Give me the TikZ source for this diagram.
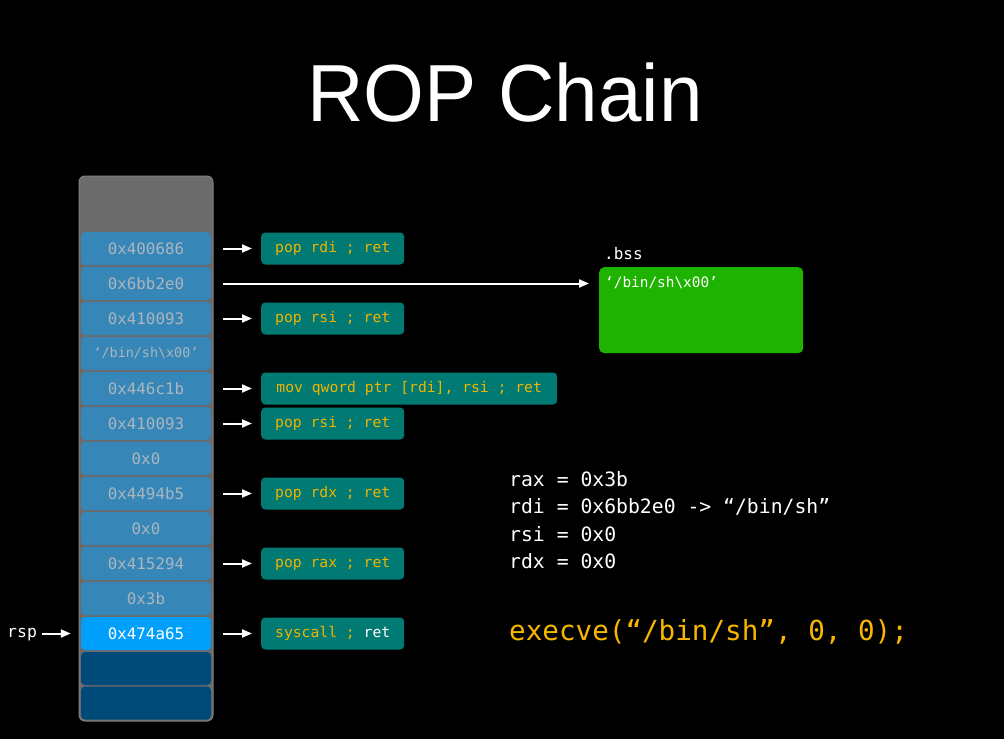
\documentclass[tikz,border=0pt]{standalone}
\usepackage{fontspec}
\setmainfont{Liberation Sans}
\setmonofont{DejaVu Sans Mono}
\usetikzlibrary{arrows.meta}

\definecolor{stackgrey}{RGB}{107,107,107}
\definecolor{stackedge}{RGB}{128,128,128}
\definecolor{cellblue}{RGB}{54,134,184}
\definecolor{celltext}{RGB}{172,182,190}
\definecolor{hiblue}{RGB}{0,160,250}
\definecolor{deepblue}{RGB}{0,74,122}
\definecolor{gadgetteal}{RGB}{0,122,114}
\definecolor{gadgettext}{RGB}{240,180,0}
\definecolor{bssgreen}{RGB}{29,179,0}
\definecolor{callyellow}{RGB}{247,182,0}

% the string "/bin/sh\x00" in single quotes
\newcommand{\binshstr}{‘/bin/sh\char"5C x00’}

\tikzset{
  cell/.style={fill=cellblue, rounded corners=4pt, minimum width=130pt,
    minimum height=33pt, inner sep=0pt, text=celltext,
    font=\ttfamily\fontsize{15.8}{18}\selectfont},
  hicell/.style={cell, fill=hiblue, text=white},
  emptycell/.style={cell, fill=deepblue},
  gadget/.style={fill=gadgetteal, rounded corners=4pt, minimum height=32pt,
    inner sep=0pt, text=gadgettext, anchor=west,
    font=\ttfamily\fontsize{14.7}{17}\selectfont},
  ptr/.style={draw=white, line width=2pt,
    -{Triangle[length=10pt,width=8pt]}},
  regline/.style={anchor=west, inner sep=0pt, text=white,
    font=\ttfamily\fontsize{19.75}{22}\selectfont},
}

\begin{document}
\begin{tikzpicture}[x=1pt,y=-1pt]
  \fill[black] (0,0) rectangle (1004,739);
  \useasboundingbox (0,0) rectangle (1004,739);

  % title
  \node[text=white, anchor=base, inner sep=0pt, xscale=0.965,
        font=\fontsize{81}{81}\selectfont] (title) at (505,121) {ROP Chain};

  % stack frame
  \draw[fill=stackgrey, draw=stackedge, line width=1pt, rounded corners=6pt]
    (79,176) rectangle (213,721);

  % stack slots
  \foreach \i/\v in {0/0x400686, 1/0x6bb2e0, 2/0x410093,
                     4/0x446c1b, 5/0x410093, 6/0x0, 7/0x4494b5, 8/0x0,
                     9/0x415294, 10/0x3b}
    \node[cell] (c\i) at (146,248.5+35*\i) {\v};
  \node[cell, font=\ttfamily\fontsize{13.4}{16}\selectfont] (c3) at (146,353.5) {\binshstr};
  \node[hicell] (c11) at (146,633.5) {0x474a65};
  \node[emptycell] (c12) at (146,668.5) {};
  \node[emptycell] (c13) at (146,703) {};

  % gadgets
  \node[gadget, minimum width=143pt] (g0) at (261,248.5) {pop rdi ; ret};
  \node[gadget, minimum width=143pt] (g2) at (261,318.5) {pop rsi ; ret};
  \node[gadget, minimum width=296pt] (g4) at (261,388.5) {mov qword ptr [rdi], rsi ; ret};
  \node[gadget, minimum width=143pt] (g5) at (261,423.5) {pop rsi ; ret};
  \node[gadget, minimum width=143pt] (g7) at (261,493.5) {pop rdx ; ret};
  \node[gadget, minimum width=143pt] (g9) at (261,563.5) {pop rax ; ret};
  \node[gadget, minimum width=143pt] (g11) at (261,633.5) {syscall ; \textcolor{white}{ret}};

  % .bss region
  \node[fill=bssgreen, rounded corners=5pt, minimum width=204pt,
        minimum height=86pt, inner sep=0pt, anchor=north west] (bss) at (599,267) {};
  \node[anchor=west, inner sep=0pt, text=white,
        font=\ttfamily\fontsize{14.4}{17}\selectfont] (bssval) at (605,283)
        {\binshstr};
  \node[anchor=base west, inner sep=0pt, text=white,
        font=\ttfamily\fontsize{16}{18}\selectfont] (bsslabel) at (604,259) {.bss};

  % pointers from slots to gadgets
  \foreach \i in {0,2,4,5,7,9,11}
    \draw[ptr, shorten <=12pt, shorten >=9pt] (c\i.east) -- (g\i.west);
  \draw[ptr, shorten <=12pt, shorten >=10pt] (c1.east) -- (bss.west |- c1.east);

  % stack pointer
  \node[anchor=base west, inner sep=0pt, text=white,
        font=\ttfamily\fontsize{16.5}{18}\selectfont] (rsp) at (7,637) {rsp};
  \draw[ptr, shorten <=5pt, shorten >=10pt] (c11.west -| rsp.east) -- (c11.west);

  % register state
  \node[regline] (r1) at (509,479) {rax = 0x3b};
  \node[regline] (r2) at (509,507) {rdi = 0x6bb2e0 -> “/bin/sh”};
  \node[regline] (r3) at (509,534) {rsi = 0x0};
  \node[regline] (r4) at (509,561) {rdx = 0x0};

  \node[anchor=west, inner sep=0pt, text=callyellow,
        font=\ttfamily\fontsize{27.6}{30}\selectfont] (call) at (509,632)
        {execve(“/bin/sh”, 0, 0);};
\end{tikzpicture}
\end{document}
